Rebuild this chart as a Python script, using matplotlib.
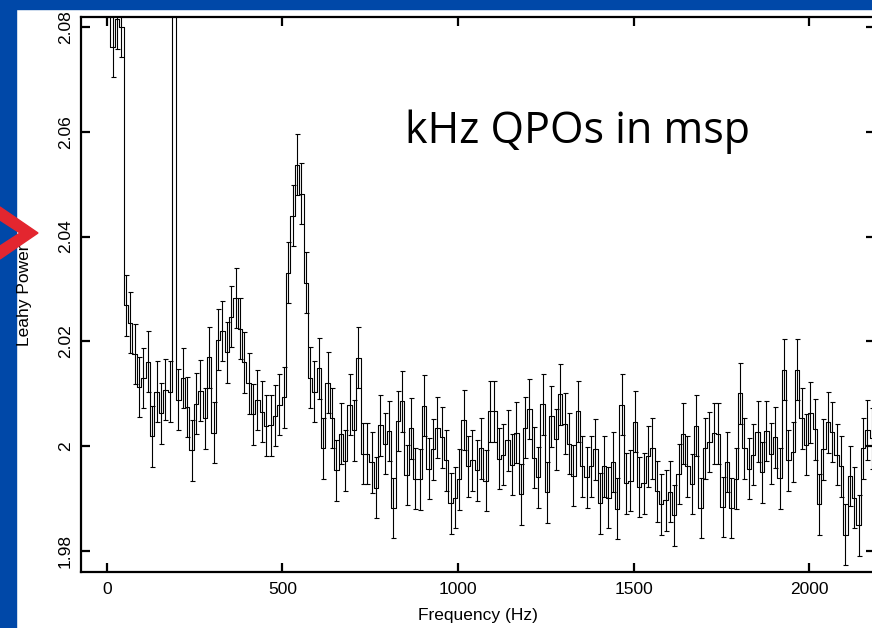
import numpy as np
import matplotlib
matplotlib.use("Agg")
import matplotlib.pyplot as plt
from matplotlib.patches import Rectangle, Polygon

# power spectrum, one value per 12.5 Hz bin starting at ~3.7 Hz
f_start = 3.7
bin_width = 12.5
power = [
    2.30, 2.0762, 2.0815, 2.0800, 2.0269, 2.0236, 2.0176, 2.0113, 2.0130, 2.0161,
    2.0019, 2.0104, 2.0063, 2.0108, 2.0104, 2.20, 2.0089, 2.0130, 2.0075, 1.9992,
    2.0081, 2.0106, 2.0053, 2.0170, 2.0026, 2.0203, 2.0220, 2.0179, 2.0247, 2.0283,
    2.0224, 2.0160, 2.0120, 2.0061, 2.0088, 2.0066, 2.0039, 2.0040, 2.0058, 2.0079,
    2.0093, 2.0331, 2.0440, 2.0537, 2.0482, 2.0312, 2.0131, 2.0104, 2.0149, 1.9996,
    2.0121, 2.0054, 1.9954, 2.0024, 1.9972, 2.0079, 2.0030, 2.0169, 1.9986, 1.9986,
    1.9969, 1.9921, 2.0040, 2.0005, 2.0029, 1.9882, 2.0048, 2.0086, 1.9945, 2.0034,
    1.9938, 1.9937, 2.0077, 1.9957, 1.9994, 2.0035, 2.0017, 1.9973, 1.9891, 1.9902,
    1.9937, 2.0050, 1.9962, 1.9973, 1.9954, 1.9996, 1.9934, 2.0067, 2.0067, 1.9976,
    1.9984, 2.0011, 1.9965, 2.0026, 1.9908, 2.0035, 2.0071, 1.9978, 1.9941, 2.0080,
    1.9912, 2.0057, 2.0013, 2.0099, 2.0043, 2.0005, 1.9944, 2.0067, 1.9962, 1.9941,
    1.9962, 1.9994, 1.9891, 1.9962, 1.9902, 1.9970, 1.9881, 2.0079, 1.9929, 1.9934,
    2.0047, 1.9922, 1.9929, 1.9981, 1.9996, 1.9914, 1.9889, 1.9897, 1.9913, 1.9868,
    1.9947, 2.0024, 1.9962, 1.9928, 2.0039, 1.9882, 1.9996, 2.0008, 2.0025, 2.0024,
    1.9884, 1.9970, 1.9882, 1.9938, 2.0101, 1.9996, 1.9957, 1.9984, 2.0028, 1.9950,
    2.0029, 1.9986, 2.0017, 1.9939, 2.0146, 1.9973, 1.9989, 2.0146, 2.0053, 2.0003,
    2.0064, 2.0032, 1.9889, 1.9994, 2.0046, 2.0027, 1.9984, 1.9962, 1.9831, 1.9943,
    1.9902, 1.9849, 1.9996, 2.0031, 2.0015,
]
err = 0.0058
freq = f_start + bin_width * np.arange(len(power))

xticks = [0, 500, 1000, 1500, 2000]
yticks = [1.98, 2.00, 2.02, 2.04, 2.06, 2.08]
ytick_labels = ["1.98", "2", "2.02", "2.04", "2.06", "2.08"]

plt.rcParams["font.family"] = ["Liberation Sans", "DejaVu Sans"]

W, H = 872, 628
fig = plt.figure(figsize=(W / 100, H / 100), dpi=100)
fig.patch.set_facecolor("white")

# blue slide frame
blue = "#0048A8"
fig.add_artist(Rectangle((0, 0), 16 / W, 1, transform=fig.transFigure, color=blue, zorder=0))
fig.add_artist(Rectangle((0, 1 - 9 / H), 1, 9 / H, transform=fig.transFigure, color=blue, zorder=0))

ax = fig.add_axes([81 / W, 1 - 572 / H, 794 / W, 555 / H])
ax.step(freq, power, where="mid", color="black", lw=0.8)
ax.errorbar(freq, power, yerr=err, fmt="none", ecolor="black", elinewidth=0.8,
            capsize=1.8, capthick=0.8)

ax.set_xlim(-74, 2188)
ax.set_ylim(1.976, 2.0819)
ax.set_xticks(xticks)
ax.set_yticks(yticks)
ax.set_yticklabels(ytick_labels, rotation=90, va="center")
ax.tick_params(direction="in", length=6.5, width=1.6, labelsize=12.5,
               top=True, right=True, pad=7)
ax.tick_params(axis="y", pad=6)
for s in ax.spines.values():
    s.set_linewidth(1.6)

ax.set_xlabel("Frequency (Hz)", fontsize=12.5, labelpad=8)
fig.text(25 / W, 1 - 295 / H, "Leahy Power", rotation=90, fontsize=12.5,
         ha="center", va="center")

fig.text(405 / W, 1 - 143 / H, "kHz QPOs in msp", fontsize=31,
         family=["Open Sans", "DejaVu Sans"], ha="left", va="baseline")

# red arrow pointing at the axis
pts = [(0, 207), (38, 233), (0, 259), (0, 246), (20, 233), (0, 220)]
fig.add_artist(Polygon([(x / W, 1 - y / H) for x, y in pts], closed=True,
                       transform=fig.transFigure, color="#E3262F", zorder=5))

fig.savefig("out.png", dpi=100)
